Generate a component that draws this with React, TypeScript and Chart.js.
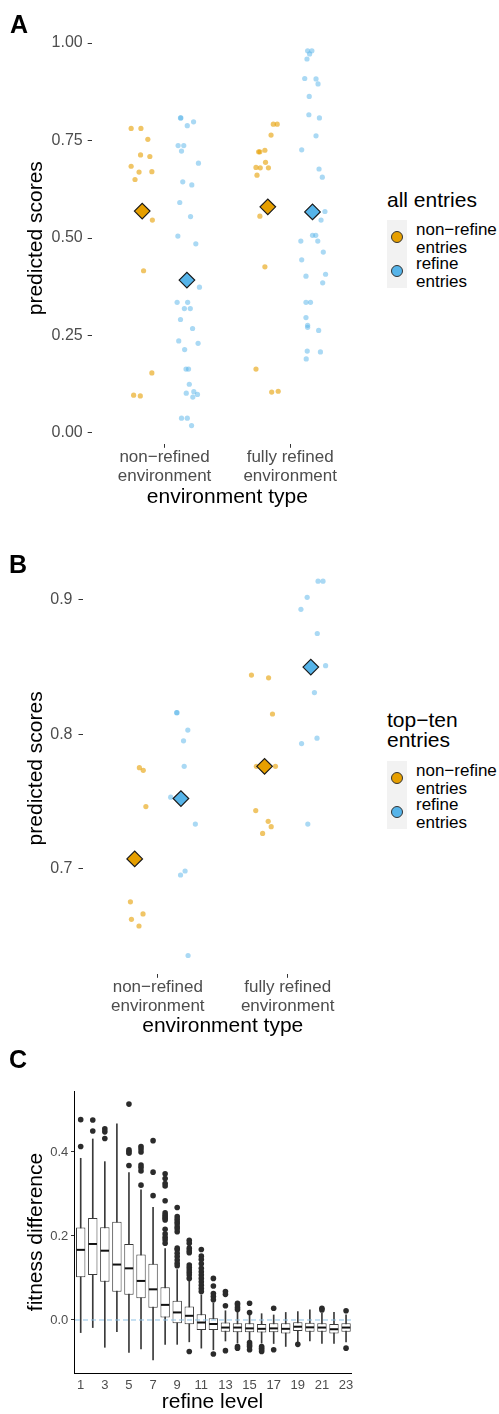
import React, { useEffect, useRef } from "react";
import { Chart, registerables } from "chart.js";

Chart.register(...registerables);

const FONT = "'Liberation Sans', Arial, Helvetica, sans-serif";
const ORANGE = "#E69F00";
const BLUE = "#56B4E9";
const ORANGE_PT = "rgba(230,159,0,0.6)";
const BLUE_PT = "rgba(86,180,233,0.5)";
const TICK_GREY = "#4d4d4d";

// ---------- shared labels ----------
const envCategories = [["non−refined", "environment"], ["fully refined", "environment"]];
const entryGroups = [["non−refine", "entries"], ["refine", "entries"]];
const legendTitleA = ["all entries"];
const legendTitleB = ["top−ten", "entries"];
const xTitleAB = "environment type";
const yTitleAB = "predicted scores";

// ---------- Panel A: all entries ----------
const aTickValues = [0, 0.25, 0.5, 0.75, 1];
const aTickLabels = ["0.00", "0.25", "0.50", "0.75", "1.00"];
const aNonRefEnvNonRefineY = [0.781, 0.781, 0.753, 0.713, 0.709, 0.684, 0.669, 0.670, 0.650, 0.546, 0.416, 0.154, 0.097, 0.095];
const aNonRefEnvNonRefineJit = [-0.088, -0.010, 0.045, -0.013, 0.061, -0.088, -0.025, 0.077, -0.057, 0.081, 0.011, 0.077, -0.068, -0.015];
const aNonRefEnvRefineY = [0.808, 0.808, 0.788, 0.798, 0.737, 0.737, 0.723, 0.692, 0.644, 0.636, 0.591, 0.555, 0.505, 0.485, 0.374, 0.335, 0.335, 0.319, 0.319, 0.291, 0.268, 0.236, 0.23, 0.214, 0.164, 0.164, 0.125, 0.106, 0.102, 0.099, 0.092, 0.038, 0.038, 0.019];
const aNonRefEnvRefineJit = [-0.051, -0.048, 0.003, 0.053, -0.07, -0.025, -0.043, 0.092, -0.033, 0.039, -0.057, 0.029, -0.072, 0.071, 0.1, -0.078, 0.006, -0.02, 0.027, -0.051, 0.045, -0.065, 0.089, -0.018, -0.007, 0.013, 0.019, 0.055, -0.005, 0.084, 0.047, -0.043, 0.003, 0.037];
const aFullRefEnvNonRefineY = [0.792, 0.792, 0.764, 0.721, 0.721, 0.725, 0.694, 0.681, 0.680, 0.680, 0.661, 0.556, 0.426, 0.164, 0.105, 0.107];
const aFullRefEnvNonRefineJit = [0.044, 0.075, 0.026, -0.073, -0.063, -0.023, -0.018, -0.094, -0.06, 0.005, -0.086, -0.063, -0.023, -0.094, 0.031, 0.083];
const aFullRefEnvRefineY = [0.980, 0.980, 0.972, 0.959, 0.909, 0.908, 0.895, 0.863, 0.816, 0.808, 0.762, 0.726, 0.677, 0.656, 0.568, 0.546, 0.507, 0.507, 0.492, 0.492, 0.464, 0.444, 0.407, 0.402, 0.385, 0.335, 0.335, 0.296, 0.276, 0.271, 0.263, 0.210, 0.208, 0.19];
const aFullRefEnvRefineJit = [-0.039, -0.005, -0.023, -0.044, -0.062, 0.028, 0.044, -0.026, -0.029, 0.055, 0.028, -0.086, 0.052, 0.078, 0.099, 0.068, 0, 0.026, -0.093, 0.042, 0.086, -0.086, 0.104, -0.052, 0.081, -0.052, -0.016, -0.052, -0.039, -0.039, 0.049, -0.042, 0.063, -0.05];
const aMeanNonRefine = [0.569, 0.58];
const aMeanRefine = [0.392, 0.567];

// ---------- Panel B: top-ten entries ----------
const bTickValues = [0.7, 0.8, 0.9];
const bTickLabels = ["0.7", "0.8", "0.9"];
const bNonRefEnvNonRefineY = [0.775, 0.773, 0.746, 0.675, 0.666, 0.662, 0.657];
const bNonRefEnvNonRefineJit = [0.036, 0.066, 0.086, -0.033, 0.064, -0.025, 0.033];
const bNonRefEnvRefineY = [0.816, 0.816, 0.803, 0.795, 0.776, 0.753, 0.733, 0.698, 0.695, 0.635];
const bNonRefEnvRefineJit = [-0.033, -0.03, 0.053, 0.02, 0.025, -0.079, 0.111, 0.032, -0.003, 0.055];
const bFullRefEnvNonRefineY = [0.844, 0.842, 0.815, 0.776, 0.776, 0.743, 0.735, 0.731, 0.726];
const bFullRefEnvNonRefineJit = [-0.101, 0.031, 0.061, -0.063, 0.084, -0.068, 0.028, 0.051, -0.015];
const bFullRefEnvRefineY = [0.914, 0.914, 0.902, 0.893, 0.875, 0.851, 0.831, 0.793, 0.797, 0.733];
const bFullRefEnvRefineJit = [0.056, 0.094, -0.028, -0.076, 0.05, 0.114, 0.028, -0.071, 0.048, -0.023];
const bMeanNonRefine = [0.707, 0.776];
const bMeanRefine = [0.752, 0.850];

// ---------- Panel C: fitness difference by refine level ----------
const cLevels = [1, 2, 3, 4, 5, 6, 7, 8, 9, 10, 11, 12, 13, 14, 15, 16, 17, 18, 19, 20, 21, 22, 23];
const cXTickValues = [1, 3, 5, 7, 9, 11, 13, 15, 17, 19, 21, 23];
const cXTickLabels = ["1", "3", "5", "7", "9", "11", "13", "15", "17", "19", "21", "23"];
const cYTickValues = [0, 0.2, 0.4];
const cYTickLabels = ["0.0", "0.2", "0.4"];
const cLow = [-0.03, -0.018, -0.065, -0.028, -0.077, -0.069, -0.095, -0.058, -0.058, -0.052, -0.067, -0.071, -0.05, -0.055, -0.05, -0.055, -0.056, -0.063, -0.052, -0.05, -0.056, -0.056, -0.052];
const cQ1 = [0.102, 0.107, 0.091, 0.067, 0.06, 0.052, 0.029, 0.006, -0.008, -0.01, -0.024, -0.024, -0.028, -0.029, -0.029, -0.030, -0.029, -0.032, -0.026, -0.028, -0.028, -0.032, -0.028];
const cMedian = [0.167, 0.181, 0.165, 0.132, 0.123, 0.093, 0.073, 0.036, 0.018, 0.010, -0.006, -0.0095, -0.018, -0.018, -0.020, -0.021, -0.020, -0.021, -0.016, -0.0175, -0.018, -0.022, -0.018];
const cQ3 = [0.22, 0.243, 0.221, 0.234, 0.181, 0.156, 0.134, 0.078, 0.046, 0.032, 0.0135, 0.004, -0.006, -0.008, -0.008, -0.0095, -0.008, -0.008, -0.0056, -0.0063, -0.008, -0.0095, -0.008];
const cHigh = [0.385, 0.431, 0.377, 0.467, 0.351, 0.31, 0.268, 0.17, 0.12, 0.092, 0.06, 0.04, 0.022, 0.02, 0.012, 0.015, 0.012, 0.018, 0.02, 0.024, 0.016, 0.018, 0.012];
const cOutliers = [
  [0.477, 0.413],
  [0.476, 0.45],
  [0.455, 0.448, 0.432],
  [],
  [0.514, 0.405, 0.401, 0.397, 0.368],
  [0.413, 0.407, 0.4, 0.369, 0.363, 0.355, 0.321],
  [0.427, 0.352, 0.296],
  [0.348, 0.337, 0.325, 0.319, 0.284, 0.255, 0.25, 0.246, 0.242, 0.238, 0.216, 0.205, 0.197, 0.191, 0.183],
  [0.268, 0.246, 0.24, 0.234, 0.229, 0.222, 0.217, 0.21, 0.171, 0.167, 0.159, 0.151, 0.143, 0.135, 0.129],
  [0.19, 0.183, 0.171, 0.165, 0.16, 0.131, 0.125, 0.119, 0.113, 0.107, 0.099, -0.075],
  [0.168, 0.152, 0.144, 0.134, 0.123, 0.115, 0.107, 0.099, 0.091, 0.083, 0.075, 0.068],
  [0.099, 0.081, 0.063, 0.056, 0.048, -0.081],
  [0.068, 0.061, 0.034, -0.073],
  [0.04, 0.036, 0.03, 0.025, -0.063, -0.067],
  [0.04, 0.018, -0.054, -0.059, -0.063, -0.071],
  [-0.063, -0.067, -0.071, -0.075],
  [0.028, -0.071],
  [],
  [-0.058],
  [],
  [0.028, 0.024],
  [],
  [0.022, -0.067],
];
const cXTitle = "refine level";
const cYTitle = "fitness difference";

// ---------- chart builders ----------
const DODGE = 0.178;
const TITLE_FS = 21;

function scatterConfig(spec: any) {
  const { groups, meanNon, meanRef, yMin, yMax, yTicks, yLabels, ca, W, H, yTitleX, xTitleY, yTickPad } = spec;
  const padLeft = yTitleX - TITLE_FS / 2;
  const scaleBottom = xTitleY + TITLE_FS / 2;
  const datasets: any[] = [];
  datasets.push({
    type: "scatter",
    data: meanNon.map((y: number, i: number) => ({ x: i - DODGE, y })),
    pointStyle: "rectRot",
    pointRadius: 7.8,
    backgroundColor: ORANGE,
    borderColor: "#1a1a1a",
    borderWidth: 1.2,
    order: 0,
  });
  datasets.push({
    type: "scatter",
    data: meanRef.map((y: number, i: number) => ({ x: i + DODGE, y })),
    pointStyle: "rectRot",
    pointRadius: 7.8,
    backgroundColor: BLUE,
    borderColor: "#1a1a1a",
    borderWidth: 1.2,
    order: 0,
  });
  groups.forEach((g: any) => {
    datasets.push({
      type: "scatter",
      data: g.ys.map((y: number, i: number) => ({ x: g.env + g.side * DODGE + g.jit[i], y })),
      pointStyle: "circle",
      pointRadius: 2.6,
      backgroundColor: g.side < 0 ? ORANGE_PT : BLUE_PT,
      borderWidth: 0,
      order: 1,
    });
  });
  return {
    type: "scatter",
    data: { datasets },
    options: {
      responsive: false,
      animation: false,
      devicePixelRatio: 1,
      events: [],
      layout: { padding: { left: padLeft, top: ca.top, right: W - ca.right, bottom: H - scaleBottom } },
      plugins: { legend: { display: false }, tooltip: { enabled: false } },
      scales: {
        x: {
          type: "linear",
          min: -0.58,
          max: 1.58,
          afterBuildTicks: (s: any) => { s.ticks = [{ value: 0 }, { value: 1 }]; },
          afterFit: (s: any) => { s.height = scaleBottom - ca.bottom; },
          ticks: {
            callback: (_v: any, i: number) => envCategories[i],
            font: { family: FONT, size: 17, lineHeight: 1.12 },
            color: TICK_GREY,
            padding: 0,
            autoSkip: false,
            maxRotation: 0,
          },
          grid: { display: true, drawOnChartArea: false, drawTicks: true, tickLength: 3.5, color: "#333", lineWidth: 1 },
          border: { display: false },
          title: { display: true, text: xTitleAB, font: { family: FONT, size: TITLE_FS, lineHeight: 1 }, color: "#000", padding: 0 },
        },
        y: {
          type: "linear",
          min: yMin,
          max: yMax,
          afterBuildTicks: (s: any) => { s.ticks = yTicks.map((v: number) => ({ value: v })); },
          afterFit: (s: any) => { s.width = ca.left - padLeft; },
          ticks: {
            callback: (_v: any, i: number) => yLabels[i],
            font: { family: FONT, size: 16 },
            color: TICK_GREY,
            padding: yTickPad,
            autoSkip: false,
          },
          grid: { display: true, drawOnChartArea: false, drawTicks: true, tickLength: 4, color: "#333", lineWidth: 1 },
          border: { display: false },
          title: { display: true, text: yTitleAB, font: { family: FONT, size: TITLE_FS, lineHeight: 1 }, color: "#000", padding: 0 },
        },
      },
    },
  };
}

function configA() {
  return scatterConfig({
    groups: [
      { ys: aNonRefEnvNonRefineY, jit: aNonRefEnvNonRefineJit, env: 0, side: -1 },
      { ys: aNonRefEnvRefineY, jit: aNonRefEnvRefineJit, env: 0, side: 1 },
      { ys: aFullRefEnvNonRefineY, jit: aFullRefEnvNonRefineJit, env: 1, side: -1 },
      { ys: aFullRefEnvRefineY, jit: aFullRefEnvRefineJit, env: 1, side: 1 },
    ],
    meanNon: aMeanNonRefine,
    meanRef: aMeanRefine,
    yMin: -0.029,
    yMax: 1.028,
    yTicks: aTickValues,
    yLabels: aTickLabels,
    ca: { left: 91.7, top: 32.1, right: 366.9, bottom: 444.3 },
    W: 372,
    H: 520,
    yTitleX: 36,
    xTitleY: 497.5,
    yTickPad: 5,
  });
}

function configB() {
  return scatterConfig({
    groups: [
      { ys: bNonRefEnvNonRefineY, jit: bNonRefEnvNonRefineJit, env: 0, side: -1 },
      { ys: bNonRefEnvRefineY, jit: bNonRefEnvRefineJit, env: 0, side: 1 },
      { ys: bFullRefEnvNonRefineY, jit: bFullRefEnvNonRefineJit, env: 1, side: -1 },
      { ys: bFullRefEnvRefineY, jit: bFullRefEnvRefineJit, env: 1, side: 1 },
    ],
    meanNon: bMeanNonRefine,
    meanRef: bMeanRefine,
    yMin: 0.621,
    yMax: 0.928,
    yTicks: bTickValues,
    yLabels: bTickLabels,
    ca: { left: 82.5, top: 42.4, right: 366.2, bottom: 454.3 },
    W: 372,
    H: 520,
    yTitleX: 36,
    xTitleY: 506.7,
    yTickPad: 6,
  });
}

const boxExtras = {
  id: "boxExtras",
  afterDatasetsDraw(chart: any) {
    const { ctx, chartArea, scales } = chart;
    const y = scales.y;
    const meta = chart.getDatasetMeta(1);
    ctx.save();
    ctx.strokeStyle = "#111";
    ctx.lineWidth = 2;
    meta.data.forEach((el: any, i: number) => {
      const py = y.getPixelForValue(cMedian[i]);
      ctx.beginPath();
      ctx.moveTo(el.x - el.width / 2 + 0.5, py);
      ctx.lineTo(el.x + el.width / 2 - 0.5, py);
      ctx.stroke();
    });
    const zy = y.getPixelForValue(0);
    ctx.strokeStyle = "#8ec2e6";
    ctx.lineWidth = 1;
    ctx.setLineDash([5, 3]);
    ctx.beginPath();
    ctx.moveTo(chartArea.left + 1, zy);
    ctx.lineTo(chartArea.right, zy);
    ctx.stroke();
    ctx.restore();
  },
};

function configC() {
  const W = 372;
  const H = 374;
  const ca = { left: 74, top: 51, right: 351, bottom: 333 };
  const yTitleX = 36;
  const xTitleY = 362;
  const padLeft = yTitleX - TITLE_FS / 2;
  const scaleBottom = xTitleY + TITLE_FS / 2;
  const outlierPts: any[] = [];
  cOutliers.forEach((arr, i) => arr.forEach((v) => outlierPts.push({ x: cLevels[i], y: v })));
  return {
    type: "bar",
    data: {
      datasets: [
        {
          type: "bar",
          data: cLevels.map((l, i) => ({ x: l, y: [cLow[i], cHigh[i]] })),
          backgroundColor: "#3a3a3a",
          borderWidth: 0,
          barThickness: 1,
          grouped: false,
          order: 3,
        },
        {
          type: "bar",
          data: cLevels.map((l, i) => ({ x: l, y: [cQ1[i], cQ3[i]] })),
          backgroundColor: "#ffffff",
          borderColor: "#3a3a3a",
          borderWidth: 1,
          borderSkipped: false,
          barPercentage: 0.78,
          categoryPercentage: 1,
          grouped: false,
          order: 2,
        },
        {
          type: "scatter",
          data: outlierPts,
          pointStyle: "circle",
          pointRadius: 2.8,
          backgroundColor: "#2b2b2b",
          borderWidth: 0,
          order: 1,
        },
      ],
    },
    options: {
      responsive: false,
      animation: false,
      devicePixelRatio: 1,
      events: [],
      layout: { padding: { left: padLeft, top: ca.top, right: W - ca.right, bottom: H - scaleBottom } },
      plugins: { legend: { display: false }, tooltip: { enabled: false } },
      scales: {
        x: {
          type: "linear",
          offset: false,
          min: 0.444,
          max: 23.41,
          afterBuildTicks: (s: any) => { s.ticks = cXTickValues.map((v) => ({ value: v })); },
          afterFit: (s: any) => { s.height = scaleBottom - ca.bottom; },
          ticks: {
            callback: (_v: any, i: number) => cXTickLabels[i],
            font: { family: FONT, size: 13 },
            color: TICK_GREY,
            padding: 4.2,
            autoSkip: false,
            maxRotation: 0,
          },
          grid: { display: false, drawOnChartArea: false, drawTicks: false },
          border: { display: true, color: "#000", width: 1 },
          title: { display: true, text: cXTitle, font: { family: FONT, size: TITLE_FS, lineHeight: 1 }, color: "#000", padding: 0 },
        },
        y: {
          type: "linear",
          min: -0.1262,
          max: 0.5452,
          afterBuildTicks: (s: any) => { s.ticks = cYTickValues.map((v) => ({ value: v })); },
          afterFit: (s: any) => { s.width = ca.left - padLeft; },
          ticks: {
            callback: (_v: any, i: number) => cYTickLabels[i],
            font: { family: FONT, size: 13 },
            color: TICK_GREY,
            padding: 2.7,
            autoSkip: false,
          },
          grid: { display: true, drawOnChartArea: false, drawTicks: true, tickLength: 3, color: "#333", lineWidth: 1 },
          border: { display: true, color: "#000", width: 1 },
          title: { display: true, text: cYTitle, font: { family: FONT, size: TITLE_FS, lineHeight: 1 }, color: "#000", padding: 0 },
        },
      },
    },
    plugins: [boxExtras],
  };
}

// ---------- components ----------
function ChartCanvas({ make, top, width, height }: any) {
  const ref = useRef<HTMLCanvasElement | null>(null);
  useEffect(() => {
    const chart = new Chart(ref.current as HTMLCanvasElement, make());
    return () => chart.destroy();
  }, []);
  return (
    <canvas
      ref={ref}
      width={width}
      height={height}
      style={{ position: "absolute", left: 0, top, width, height }}
    />
  );
}

function PanelLetter({ text, left, top }: any) {
  return (
    <div style={{ position: "absolute", left, top, fontSize: 25, lineHeight: "25px", fontWeight: 700, color: "#000" }}>
      {text}
    </div>
  );
}

function Legend({ titleLines, titleTop, titleLh, keyTop }: any) {
  const keyH = 34;
  const colors = [ORANGE, BLUE];
  return (
    <>
      <div style={{ position: "absolute", left: 387, top: titleTop, fontSize: 21, lineHeight: titleLh + "px", color: "#000", whiteSpace: "nowrap" }}>
        {titleLines.map((t: string, i: number) => (<div key={i}>{t}</div>))}
      </div>
      {entryGroups.map((lines, i) => (
        <React.Fragment key={i}>
          <div style={{ position: "absolute", left: 387, top: keyTop + i * keyH, width: 20, height: keyH, background: "#f2f2f2" }} />
          <div
            style={{
              position: "absolute",
              left: 391,
              top: keyTop + i * keyH + 10.5,
              width: 12,
              height: 12,
              boxSizing: "border-box",
              borderRadius: "50%",
              background: colors[i],
              border: "1px solid #333",
            }}
          />
          <div style={{ position: "absolute", left: 416, top: keyTop + i * keyH + 1.25, fontSize: 17, lineHeight: "17.5px", color: "#000", whiteSpace: "nowrap" }}>
            {lines.map((t, j) => (<div key={j}>{t}</div>))}
          </div>
        </React.Fragment>
      ))}
    </>
  );
}

export default function App() {
  return (
    <div style={{ position: "absolute", left: 0, top: 0, width: 499, height: 1414, background: "#fff", fontFamily: FONT, overflow: "hidden" }}>
      <ChartCanvas make={configA} top={0} width={372} height={520} />
      <ChartCanvas make={configB} top={520} width={372} height={520} />
      <ChartCanvas make={configC} top={1040} width={372} height={374} />
      <PanelLetter text="A" left={10} top={11.7} />
      <PanelLetter text="B" left={9} top={551.7} />
      <PanelLetter text="C" left={9} top={1047} />
      <Legend titleLines={legendTitleA} titleTop={188.5} titleLh={21} keyTop={220} />
      <Legend titleLines={legendTitleB} titleTop={710} titleLh={20} keyTop={761} />
    </div>
  );
}
